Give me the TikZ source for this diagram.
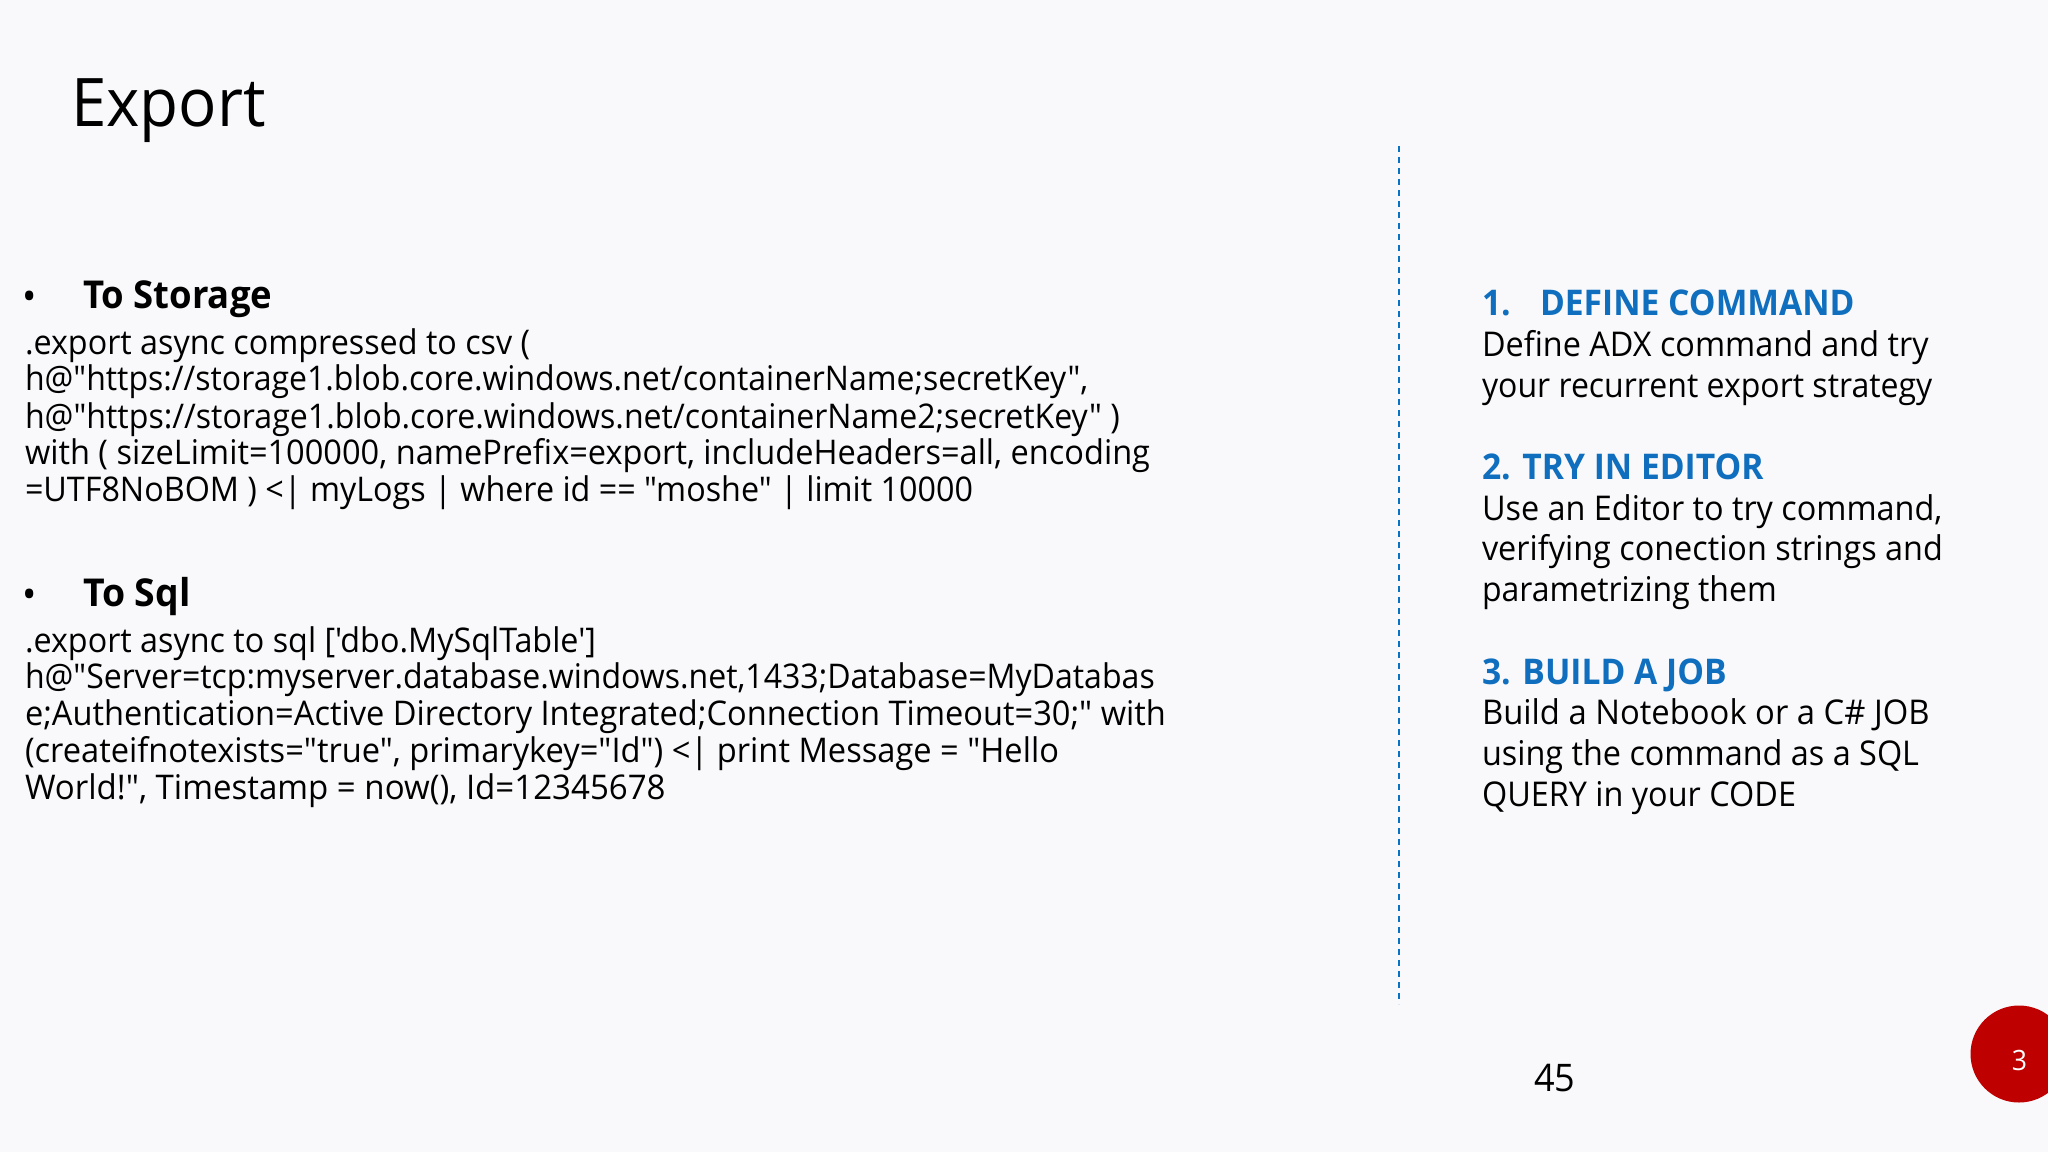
\documentclass[tikz,border=0pt]{standalone}
\usepackage{fontspec}
\setmainfont{Open Sans}[FakeStretch=0.95,Ligatures=TeXOff]
\definecolor{bgc}{HTML}{F9F9FB}
\definecolor{headc}{HTML}{0F6FBE}
\definecolor{dashc}{HTML}{0A72C4}
\definecolor{redc}{HTML}{BE0000}
\newcommand{\sx}[2]{\scalebox{#1}[1]{#2}}
\tikzset{
  x=1pt,y=-1pt,
  txt/.style={anchor=base west,inner sep=0pt,outer sep=0pt,text=black,font=\fontsize{34}{40}\selectfont},
  sub/.style={txt,font=\fontsize{38.4}{44}\selectfont\bfseries},
  rt/.style={txt,font=\fontsize{34.1}{40}\selectfont},
  hd/.style={txt,text=headc,font=\fontsize{35.4}{42}\selectfont\bfseries},
  bul/.style={txt,font=\fontsize{40}{44}\selectfont},
}
\begin{document}
\begin{tikzpicture}
\path[use as bounding box,fill=bgc] (0,0) rectangle (2048,1152);
\node[txt,font=\fontsize{67}{80}\selectfont] (title) at (71,126.5) {Export};
% left
\node[bul] (b1) at (23,310.3) {•};
\node[sub] (s1) at (83,308.3) {To Storage};
\node[txt] (l1) at (25,354) {.export async compressed to csv (};
\node[txt] (l2) at (25,390.6) {\sx{0.991}{h@"https://storage1.blob.core.windows.net/containerName;secretKey",}};
\node[txt] (l3) at (25,428) {\sx{0.994}{h@"https://storage1.blob.core.windows.net/containerName2;secretKey" )}};
\node[txt] (l4) at (25,464.6) {\sx{1.008}{with ( sizeLimit=100000, namePrefix=export, includeHeaders=all, encoding}};
\node[txt] (l5) at (25,501.3) {=UTF8NoBOM ) <| myLogs | where id == "moshe" | limit 10000};
\node[bul] (b2) at (23,608.3) {•};
\node[sub] (s2) at (83,606.3) {\sx{1.025}{To Sql}};
\node[txt] (m1) at (25,652) {.export async to sql ['dbo.MySqlTable']};
\node[txt] (m2) at (25,688.8) {\sx{0.992}{h@"Server=tcp:myserver.database.windows.net,1433;Database=MyDatabas}};
\node[txt] (m3) at (25,725.6) {\sx{1.009}{e;Authentication=Active Directory Integrated;Connection Timeout=30;" with}};
\node[txt] (m4) at (25,762.4) {\sx{1.01}{(createifnotexists="true", primarykey="Id") <| print Message = "Hello}};
\node[txt] (m5) at (25,799.3) {\sx{1.023}{World!", Timestamp = now(), Id=12345678}};
% divider
\coordinate (d1) at (1399,146);
\coordinate (d2) at (1399,1004);
\draw[dashc,line width=1.8pt,dash pattern=on 6pt off 5pt] (d1) -- (d2);
% right
\node[hd] (h1n) at (1482,315.6) {1.};
\node[hd] (h1) at (1540,315.6) {DEFINE COMMAND};
\node[rt] (r1) at (1482,356) {Define ADX command and try};
\node[rt] (r2) at (1482,397.2) {\sx{0.989}{your recurrent export strategy}};
\node[hd] (h2) at (1482,479.5) {2. TRY IN EDITOR};
\node[rt] (r3) at (1482,520) {Use an Editor to try command,};
\node[rt] (r4) at (1482,560.5) {verifying conection strings and};
\node[rt] (r5) at (1482,601.5) {\sx{0.987}{parametrizing them}};
\node[hd] (h3) at (1482,684) {3. BUILD A JOB};
\node[rt] (r6) at (1482,724.6) {\sx{1.012}{Build a Notebook or a C\# JOB}};
\node[rt] (r7) at (1482,765.6) {using the command as a SQL};
\node[rt] (r8) at (1482,806.7) {QUERY in your CODE};
% footer
\node[txt,font=\fontsize{38}{44}\selectfont] (pg) at (1534,1091.5) {45};
\fill[redc] (2019,1054) circle (48.5);
\node[anchor=base,inner sep=0pt,text=white,font=\fontsize{28}{32}\selectfont] (cnt) at (2019.5,1070) {3};
\end{tikzpicture}
\end{document}
